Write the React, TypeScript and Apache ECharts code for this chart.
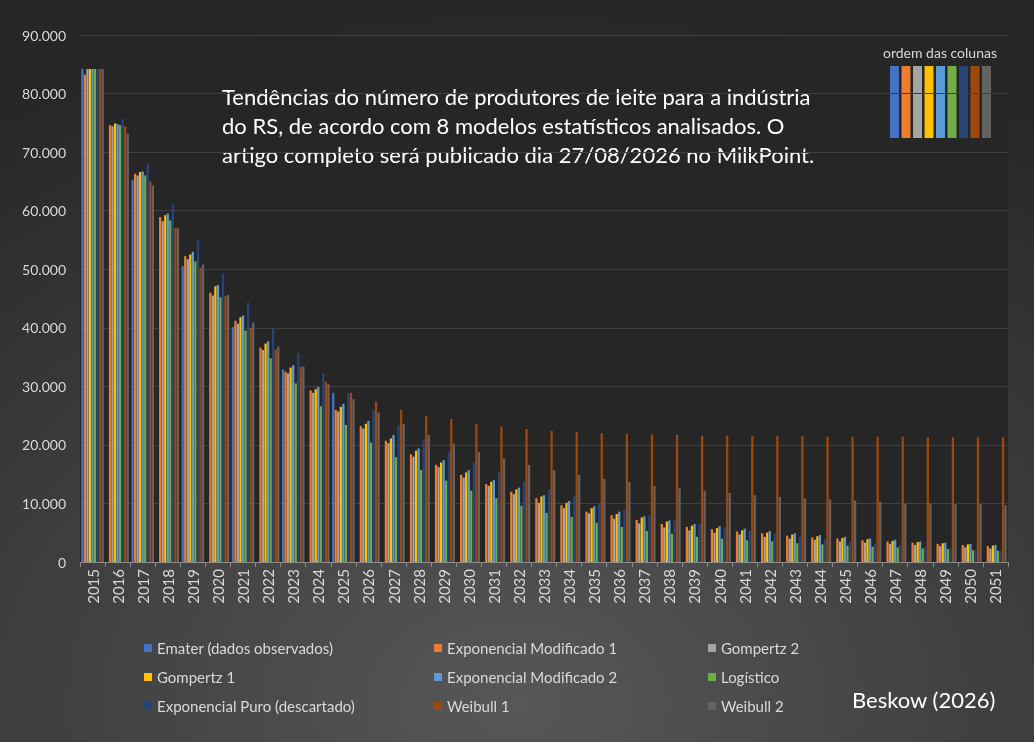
import React, { useEffect, useRef } from 'react'
import * as echarts from 'echarts'

// anos (eixo x)
const years = [
  '2015', '2016', '2017', '2018', '2019', '2020', '2021', '2022', '2023', '2024',
  '2025', '2026', '2027', '2028', '2029', '2030', '2031', '2032', '2033', '2034',
  '2035', '2036', '2037', '2038', '2039', '2040', '2041', '2042', '2043', '2044',
  '2045', '2046', '2047', '2048', '2049', '2050', '2051',
]

// Emater: levantamentos bienais
const emater = [
  84199, null, 65202, null, 50500, null, 40100, null, 32900, null,
  28900, null, null, null, null, null, null, null, null, null,
  null, null, null, null, null, null, null, null, null, null,
  null, null, null, null, null, null, null,
]
const expMod1 = [
  83200, 74600, 66300, 58900, 52200, 46000, 41200, 36600, 32500, 29300,
  26000, 23200, 20700, 18400, 16600, 14900, 13300, 12000, 10900, 9700,
  8600, 8000, 7200, 6500, 6000, 5600, 5200, 4900, 4500, 4200,
  4000, 3700, 3500, 3300, 3100, 2900, 2700,
]
const gompertz2 = [
  84200, 74400, 66000, 58200, 51700, 45500, 40700, 36200, 32200, 28900,
  25700, 22800, 20300, 18000, 16200, 14400, 13000, 11600, 10100, 9200,
  8300, 7400, 6600, 5900, 5400, 5000, 4700, 4300, 4000, 3800,
  3500, 3300, 3100, 2900, 2700, 2500, 2300,
]
const gompertz1 = [
  84200, 74900, 66600, 59200, 52500, 47100, 41800, 37300, 33200, 29500,
  26500, 23600, 21100, 19000, 17000, 15300, 13700, 12400, 11200, 10100,
  9200, 8200, 7600, 6900, 6200, 5800, 5400, 5000, 4700, 4400,
  4100, 3900, 3600, 3400, 3200, 3000, 2800,
]
const expMod2 = [
  84200, 74800, 66700, 59500, 53000, 47300, 42100, 37700, 33600, 29900,
  27000, 24100, 21700, 19400, 17400, 15700, 14000, 12700, 11400, 10400,
  9500, 8600, 7800, 7100, 6500, 6100, 5700, 5300, 4900, 4600,
  4300, 4000, 3800, 3500, 3300, 3100, 2900,
]
const logistico = [
  84200, 74600, 66000, 58300, 51300, 45200, 39500, 34800, 30500, 26600,
  23400, 20400, 17900, 15700, 13900, 12200, 10900, 9600, 8400, 7700,
  6700, 6000, 5300, 4800, 4300, 4000, 3700, 3500, 3200, 3000,
  2800, 2600, 2500, 2300, 2200, 2000, 1900,
]
const expPuro = [
  84200, 75700, 68000, 61100, 55000, 49300, 44300, 39900, 35700, 32200,
  28900, 26000, 23400, 21000, 18800, 17000, 15300, 13700, 12300, 11200,
  9900, 8900, 8000, 7200, 6500, 5900, 5300, 4800, 4300, 3900,
  3500, 3200, 2900, 2600, 2300, 2100, 1900,
]
const weibull1 = [
  84200, 74400, 65000, 57000, 50300, 45400, 40000, 36300, 33300, 30800,
  28900, 27400, 26000, 24900, 24400, 23600, 23100, 22700, 22400, 22200,
  22000, 21900, 21800, 21700, 21600, 21600, 21500, 21500, 21500, 21400,
  21400, 21400, 21400, 21300, 21300, 21300, 21300,
]
const weibull2 = [
  84200, 73100, 64300, 57000, 50800, 45600, 40900, 36800, 33400, 30400,
  27800, 25500, 23600, 21700, 20200, 18800, 17700, 16600, 15700, 14900,
  14200, 13700, 13000, 12600, 12200, 11800, 11400, 11100, 10900, 10700,
  10500, 10300, 10000, 10000, 9900, 9900, 9700,
]

const seriesNames = [
  'Emater (dados observados)',
  'Exponencial Modificado 1',
  'Gompertz 2',
  'Gompertz 1',
  'Exponencial Modificado 2',
  'Logístico',
  'Exponencial Puro (descartado)',
  'Weibull 1',
  'Weibull 2',
]
const seriesData = [emater, expMod1, gompertz2, gompertz1, expMod2, logistico, expPuro, weibull1, weibull2]
const colors = ['#4472C4', '#ED7D31', '#A5A5A5', '#FFC000', '#5B9BD5', '#70AD47', '#264478', '#9E480E', '#636363']

const FONT = 'Lato, "Open Sans", sans-serif'
const TXT = '#d9d9d9'

const fmt = (v: number) => String(v).replace(/\B(?=(\d{3})+(?!\d))/g, '.')

const App: React.FC = () => {
  const ref = useRef<HTMLDivElement>(null)

  useEffect(() => {
    if (!ref.current) return
    const chart = echarts.init(ref.current, null, { renderer: 'svg' })

    const legendCol = (left: number, idx: number[]) => ({
      orient: 'vertical' as const,
      left,
      top: 634,
      itemWidth: 8,
      itemHeight: 8,
      itemGap: 11,
      icon: 'rect',
      data: idx.map(i => seriesNames[i]),
      textStyle: { color: TXT, fontSize: 15, fontFamily: FONT, lineHeight: 18 },
    })

    // caixinha "ordem das colunas"
    const orderRects = colors.map((c, i) => ({
      type: 'rect',
      shape: { x: 890 + i * 11.5, y: 66, width: 9, height: 72 },
      style: { fill: c },
    }))

    chart.setOption({
      animation: false,
      backgroundColor: {
        type: 'radial', x: 0.5, y: 0.95, r: 0.95,
        colorStops: [
          { offset: 0, color: '#575757' },
          { offset: 1, color: '#262626' },
        ],
      },
      textStyle: { fontFamily: FONT },
      grid: {
        left: 80, right: 26, top: 35, bottom: 180,
        show: true, backgroundColor: '#262626', borderWidth: 0,
      },
      xAxis: {
        type: 'category',
        data: years,
        axisLine: { lineStyle: { color: '#8c8c8c', width: 1 } },
        axisTick: { show: true, length: 5, lineStyle: { color: '#8c8c8c' } },
        axisLabel: { rotate: 90, color: TXT, fontSize: 15, fontFamily: FONT, margin: 7 },
      },
      yAxis: {
        type: 'value',
        min: 0,
        max: 90000,
        interval: 10000,
        axisLine: { show: false },
        axisTick: { show: false },
        axisLabel: { color: TXT, fontSize: 14, fontFamily: FONT, margin: 14, formatter: (v: number) => fmt(v) },
        splitLine: { lineStyle: { color: '#404040', width: 1 } },
      },
      legend: [
        legendCol(139, [0, 3, 6]),
        legendCol(429, [1, 4, 7]),
        legendCol(703, [2, 5, 8]),
      ],
      series: seriesNames.map((name, i) => ({
        type: 'bar',
        name,
        data: seriesData[i],
        barGap: '12%',
        barCategoryGap: '10%',
        itemStyle: { color: colors[i] },
      })),
      graphic: [
        {
          type: 'text',
          left: 222,
          top: 82,
          style: {
            text: 'Tendências do número de produtores de leite para a indústria\ndo RS, de acordo com 8 modelos estatísticos analisados. O\nartigo completo será publicado dia 27/08/2026 no MilkPoint.',
            fill: '#ffffff',
            fontSize: 22,
            lineHeight: 29,
            fontFamily: FONT,
          },
        },
        {
          type: 'text',
          left: 883,
          top: 45,
          style: { text: 'ordem das colunas', fill: TXT, fontSize: 14, fontFamily: FONT },
        },
        ...orderRects,
        {
          type: 'text',
          left: 852,
          top: 688,
          style: { text: 'Beskow (2026)', fill: '#ffffff', fontSize: 22, fontFamily: FONT },
        },
      ],
    })

    return () => chart.dispose()
  }, [])

  return (
    <div
      ref={ref}
      style={{ position: 'fixed', left: 0, top: 0, width: '1034px', height: '742px' }}
    />
  )
}

export default App
